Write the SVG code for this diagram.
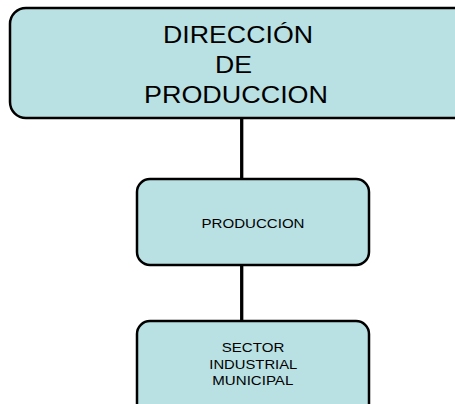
<svg xmlns="http://www.w3.org/2000/svg" width="455" height="404" viewBox="0 0 455 404">
<style>
.box{fill:#b9e0e3;stroke:#000;stroke-width:2.5}
.t{font-family:"Liberation Sans",Arial,sans-serif;fill:#000;text-anchor:middle}
.big{font-size:23px}
.small{font-size:13px}
.conn{stroke:#000;stroke-width:3.3;fill:none}
</style>
<rect width="455" height="404" fill="#fff"/>
<g id="connectors">
<line class="conn" x1="241.7" y1="117" x2="241.7" y2="180"/>
<line class="conn" x1="241.7" y1="264" x2="241.7" y2="322"/>
</g>
<g id="node-direccion">
<rect class="box" x="10" y="8" width="460" height="110" rx="16"/>
<text class="t big" x="238" y="42.7" textLength="150" lengthAdjust="spacingAndGlyphs">DIRECCIÓN</text>
<text class="t big" x="233.5" y="73.3" textLength="37" lengthAdjust="spacingAndGlyphs">DE</text>
<text class="t big" x="236" y="103.3" textLength="184" lengthAdjust="spacingAndGlyphs">PRODUCCION</text>
</g>
<g id="node-produccion">
<rect class="box" x="137" y="179" width="232" height="86" rx="13"/>
<text class="t small" x="253" y="227.7" textLength="103" lengthAdjust="spacingAndGlyphs">PRODUCCION</text>
</g>
<g id="node-sector">
<rect class="box" x="137" y="321" width="232" height="100" rx="13"/>
<text class="t small" x="253" y="352.3" textLength="62.6" lengthAdjust="spacingAndGlyphs">SECTOR</text>
<text class="t small" x="253.3" y="369.3" textLength="88" lengthAdjust="spacingAndGlyphs">INDUSTRIAL</text>
<text class="t small" x="252.8" y="385.3" textLength="81" lengthAdjust="spacingAndGlyphs">MUNICIPAL</text>
</g>
</svg>
